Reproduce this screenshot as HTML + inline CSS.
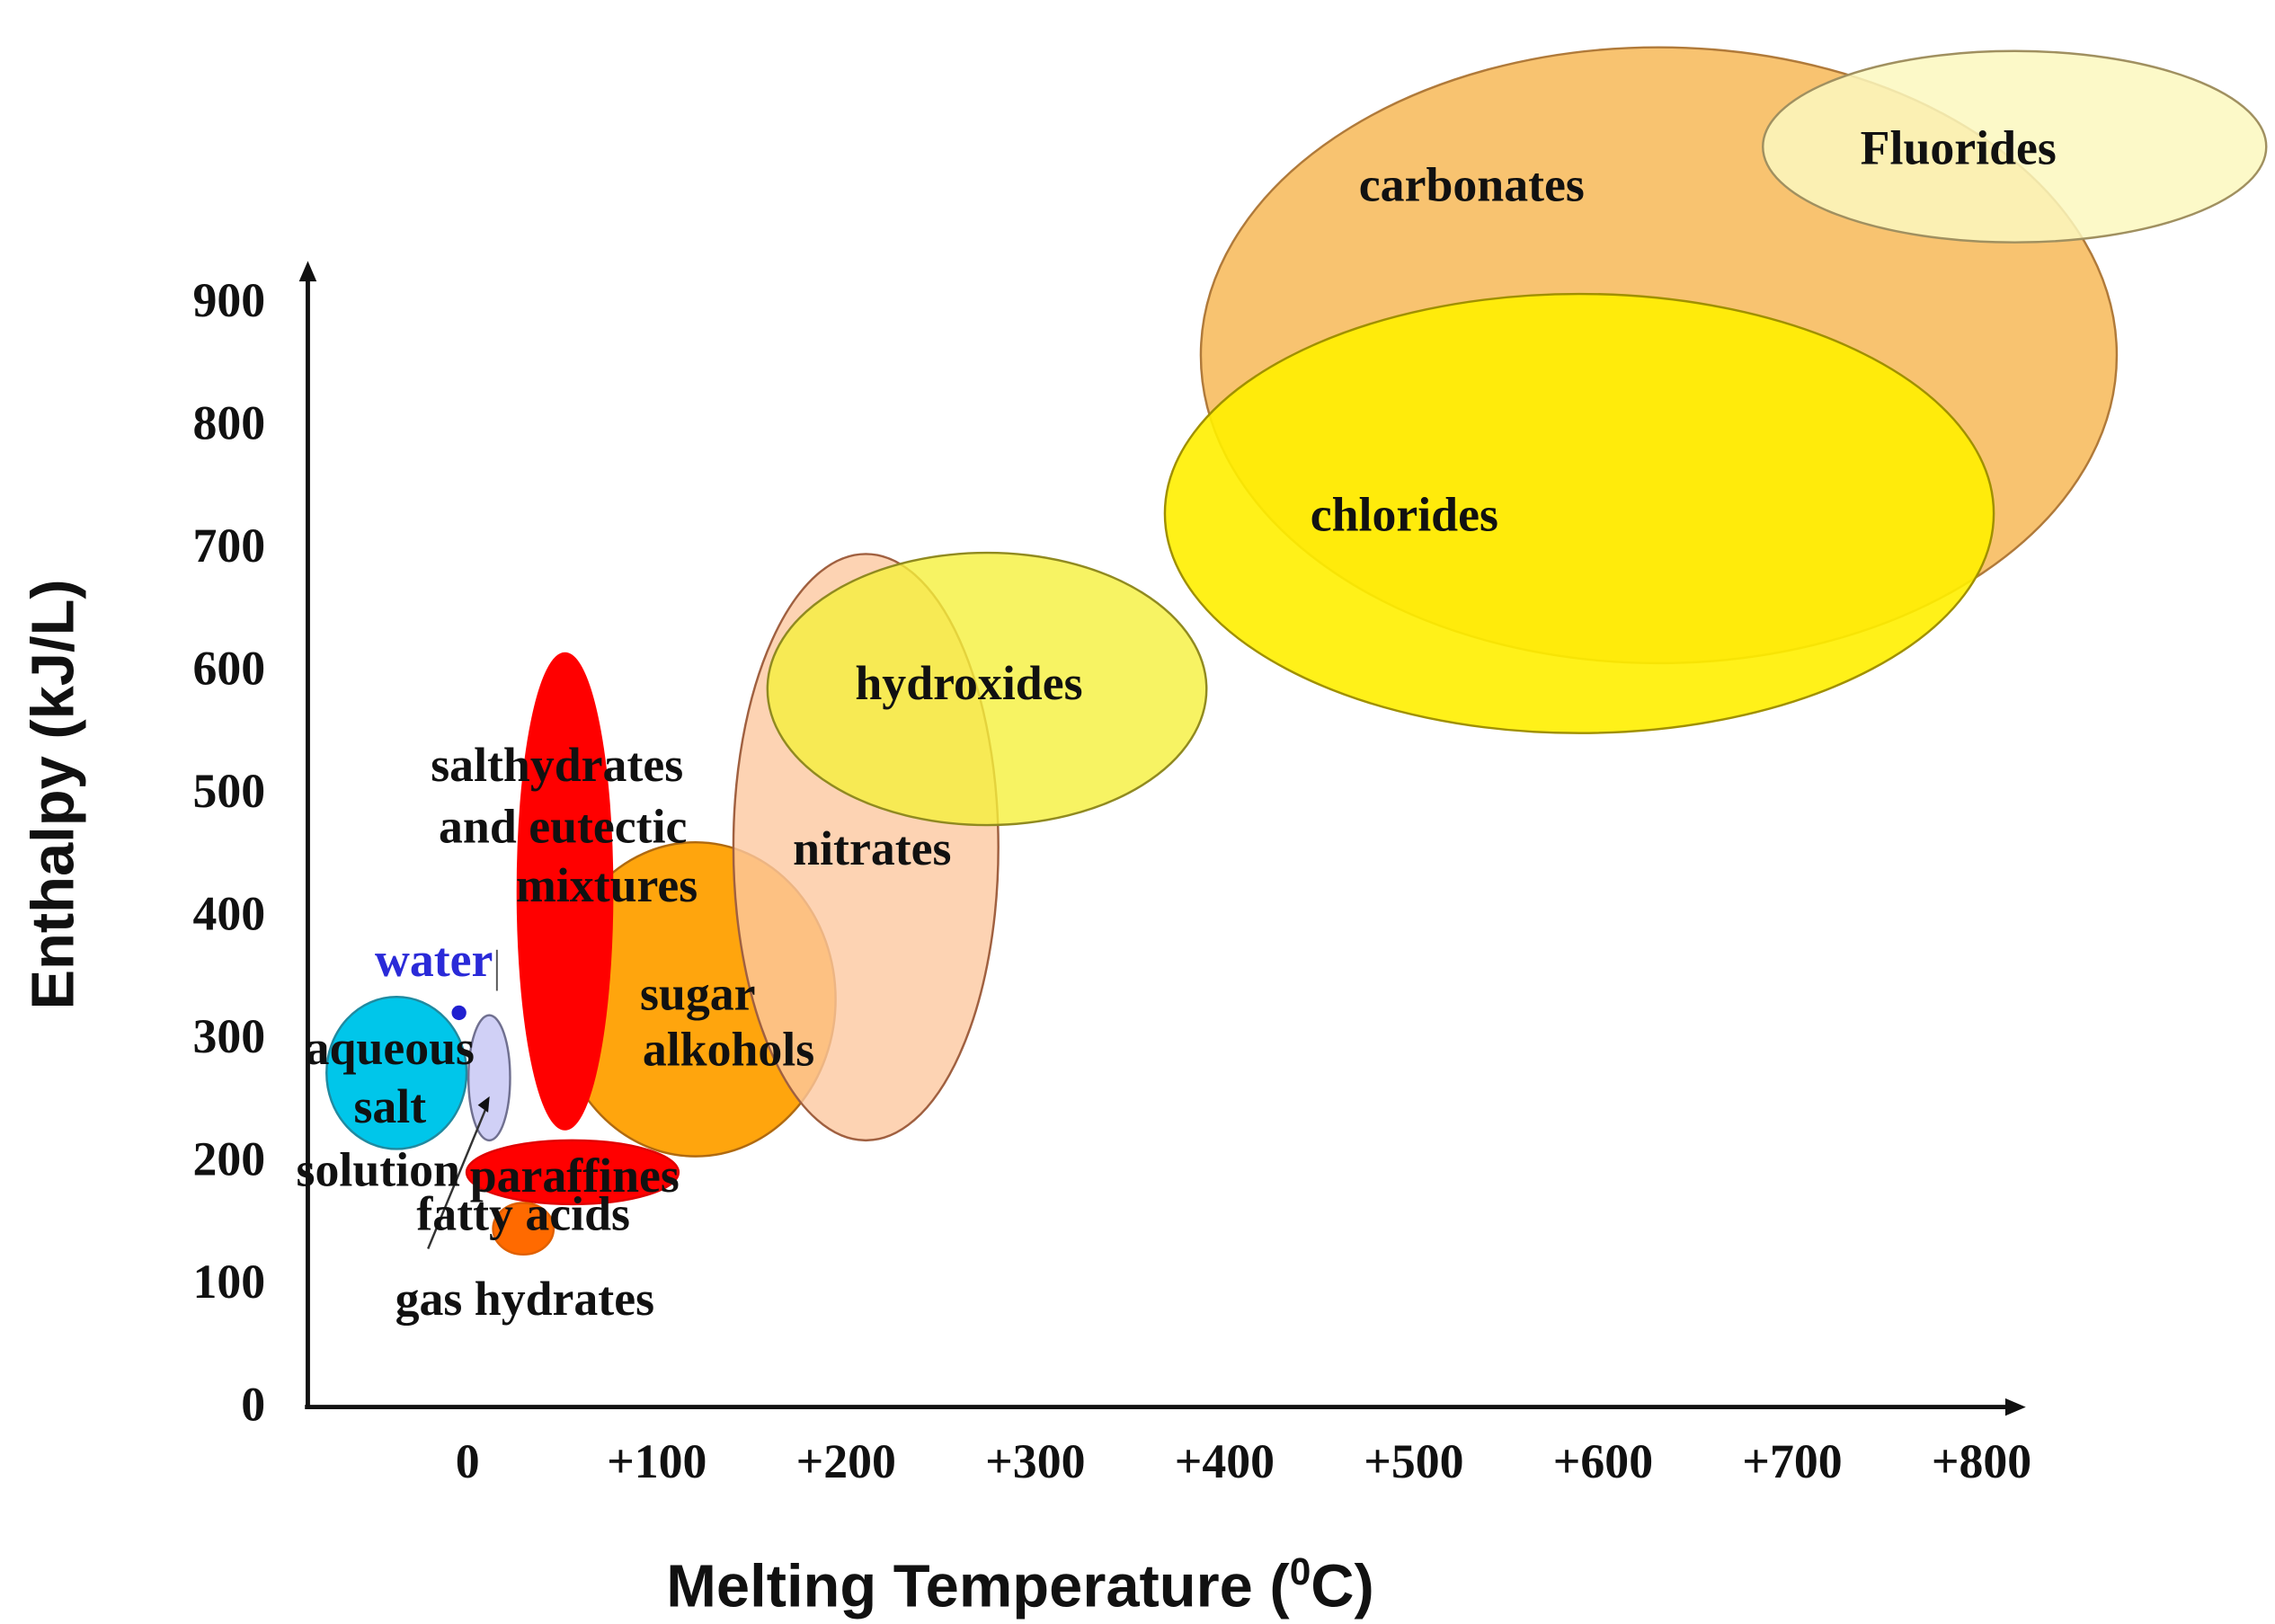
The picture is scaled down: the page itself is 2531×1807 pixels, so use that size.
<!DOCTYPE html>
<html><head><meta charset="utf-8"><style>
html,body{margin:0;padding:0;background:#fff;}
svg{display:block;}
.lbl{font-family:"Liberation Serif",serif;font-weight:bold;font-size:33px;fill:#111;}
.tick{font-family:"Liberation Serif",serif;font-weight:bold;font-size:33px;fill:#111;}
.title{font-family:"Liberation Sans",sans-serif;font-weight:bold;font-size:41px;fill:#111;}
</style></head><body>
<svg id="chart" width="2531" height="1807" viewBox="0 0 1552 1108" xmlns="http://www.w3.org/2000/svg">
<g id="shapes"></g>
<g id="axes"></g>
<g id="labels"></g>
</svg>
<script>
const NS="http://www.w3.org/2000/svg";
// data arrays (temperature °C, enthalpy kJ/L)
const regionNames=["carbonates","fluorides","chlorides","sugar-alcohols","salt-hydrates","nitrates","hydroxides","aqueous-salt","lavender-region","paraffines","fatty-acids"];
const centerTemp=[631,819,589,122,53,212,276,-36,13,57,31];
const centerEnth=[855,1025,726,330,418,454,583,270,266,189,143];
const spanTemp=[242,133,219,74,25,70,116,37,11,56,16];
const spanEnth=[251,78,179,128,194,239,111,62,51,26,21];
const xTicks=[0,100,200,300,400,500,600,700,800];
const xTickLabels=["0","+100","+200","+300","+400","+500","+600","+700","+800"];
const yTicks=[0,100,200,300,400,500,600,700,800,900];
const waterPoint=[-3,319];

const fills=["rgba(247,190,100,0.92)","rgba(252,248,190,0.85)","rgba(255,240,0,0.9)","rgba(255,160,0,0.95)","#ff0000","rgba(252,200,160,0.8)","rgba(245,240,60,0.8)","#00c6ea","#d0d0f6","#ff0000","#ff6a00"];
const strokes=["#b07a3a","#a09060","#a09000","#b06a10","#ff0000","#a06040","#908a20","#208aa0","#707090","#e00000","#e06000"];

const x=t=>317+1.291*t;
const y=h=>958-0.837*h;
const sx=t=>1.291*t, sy=h=>0.837*h;

function mk(tag,attrs,parent){const e=document.createElementNS(NS,tag);for(const k in attrs)e.setAttribute(k,attrs[k]);parent.appendChild(e);return e;}
const gS=document.getElementById('shapes');
regionNames.forEach((n,i)=>{
  const e=mk('ellipse',{cx:x(centerTemp[i]),cy:y(centerEnth[i]),rx:sx(spanTemp[i]),ry:sy(spanEnth[i]),fill:fills[i],stroke:strokes[i],'stroke-width':1.5},gS);
  
  
});
const w=mk('circle',{cx:x(waterPoint[0]),cy:y(waterPoint[1]),r:5,fill:'#2020d0'},gS);


const arr=mk('path',{d:'M292,852 L332,755',stroke:'#333','stroke-width':1.5,fill:'none'},gS);


mk('path',{d:'M326,754 L334,748 L333,759 Z',fill:'#111'},gS);
mk('line',{x1:339,y1:648,x2:339,y2:676,stroke:'#555','stroke-width':1.2},gS);

const gA=document.getElementById('axes');
const ya=mk('path',{d:'M210,960 L210,188',stroke:'#111','stroke-width':3,fill:'none'},gA);

mk('path',{d:'M204,192 L210,178 L216,192 Z',fill:'#111'},gA);
const xa=mk('path',{d:'M208,960 L1372,960',stroke:'#111','stroke-width':3,fill:'none'},gA);

mk('path',{d:'M1368,954 L1382,960 L1368,966 Z',fill:'#111'},gA);
yTicks.forEach(v=>{const t=mk('text',{x:181,y:y(v)+11,'text-anchor':'end',class:'tick'},gA);t.textContent=v;
  });
xTicks.forEach((v,i)=>{const t=mk('text',{x:x(v)+2,y:1008,'text-anchor':'middle',class:'tick'},gA);t.textContent=xTickLabels[i];
  });
const yt=mk('text',{x:0,y:0,'text-anchor':'middle',class:'title',transform:'translate(50,542) rotate(-90)'},gA);
yt.textContent='Enthalpy (kJ/L)';
const xt=mk('text',{x:696,y:1096,'text-anchor':'middle',class:'title'},gA);
xt.innerHTML='Melting Temperature (<tspan dy="-15" font-size="26">0</tspan><tspan dy="15">C)</tspan>';


const gL=document.getElementById('labels');
const labels=[["carbonates",1004,137],["Fluorides",1336,112],["chlorides",958,362],["hydroxides",661,477],["nitrates",595,590],["salthydrates",380,533],["and eutectic",384,575],["mixtures",414,615],["sugar",476,689],["alkohols",497,727],["aqueous",266,726],["salt",266,766],["solution",258,809],["paraffines",392,813],["fatty acids",357,839],["gas hydrates",358,897]];
labels.forEach(l=>{const t=mk('text',{x:l[1],y:l[2],'text-anchor':'middle',class:'lbl'},gL);t.textContent=l[0];
  });
const wt=mk('text',{x:296,y:666,'text-anchor':'middle',class:'lbl',style:'fill:#2a2ad8'},gL);wt.textContent='water';

</script>
</body></html>
